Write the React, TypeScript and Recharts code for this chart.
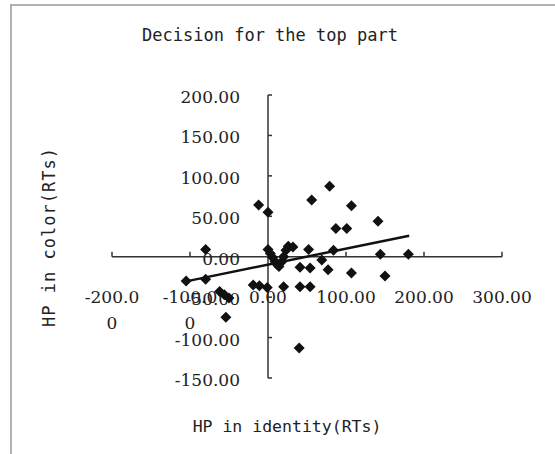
import { ReferenceDot, ReferenceLine, Scatter, ScatterChart, XAxis, YAxis } from "recharts";

// point cloud
const pointX = [
  -105, -80, -80, -62, -56, -50, -54, -12, 0, -19, -11, -1, 0, 3, 6, 9, 11, 14, 17, 20, 23, 26, 32, 20,
  41, 54, 69, 77, 107, 41, 54, 40, 56, 79, 107, 87, 101, 52, 84, 141, 144, 180, 150,
];
const pointY = [
  -30, 9, -28, -43, -47, -51, -75, 64, 55, -35, -36, -38, 9, 4, -1, -6, -9, -12, -7, 0, 8, 13, 12, -37,
  -13, -14, -4, -16, -20, -37, -37, -113, 70, 87, 63, 35, 35, 9, 8, 44, 3, 3, -24,
];

const trendX = [-105, 181];
const trendY = [-30.5, 26];

const xTicks = [-200, -100, 0, 100, 200, 300];
const xTickLabels = [["-200.0", "0"], ["-100.0", "0"], ["0.00"], ["100.00"], ["200.00"], ["300.00"]];
const yTicks = [200, 150, 100, 50, 0, -50, -100, -150];
const yTickLabels = ["200.00", "150.00", "100.00", "50.00", "0.00", "-50.00", "-100.00", "-150.00"];

const points = pointX.map((x, i) => ({ x, y: pointY[i] }));

const INK = "#222";
const tickFont = { fontFamily: "DejaVu Serif", fontSize: 17, fill: INK };
const monoFont = { fontFamily: "DejaVu Sans Mono", fill: INK };

const Diamond = (props: any) => {
  const { cx, cy } = props;
  const s = 5.5;
  return <polygon points={`${cx},${cy - s} ${cx + s},${cy} ${cx},${cy + s} ${cx - s},${cy}`} fill="#111" />;
};

const xTickShape = (lines: string[]) => (p: any) => (
  <g>
    <line x1={p.cx} y1={p.cy} x2={p.cx} y2={p.cy - 5} stroke="#333" strokeWidth={1.5} />
    <text x={p.cx} y={p.cy + 46} textAnchor="middle" {...tickFont}>
      {lines.map((l, i) => (
        <tspan key={i} x={p.cx} dy={i === 0 ? 0 : 26}>
          {l}
        </tspan>
      ))}
    </text>
  </g>
);

const yTickShape = (label: string) => (p: any) => (
  <g>
    <line x1={p.cx} y1={p.cy} x2={p.cx + 4} y2={p.cy} stroke="#333" strokeWidth={1.5} />
    <text x={p.cx - 28} y={p.cy + 8} textAnchor="end" {...tickFont}>
      {label}
    </text>
  </g>
);

export default function App() {
  return (
    <div style={{ position: "absolute", left: 0, top: 0, width: 555, height: 454, background: "#fff" }}>
      <ScatterChart width={555} height={454} margin={{ top: 95, right: 53, bottom: 76, left: 112 }}>
        <XAxis type="number" dataKey="x" domain={[-200, 300]} hide />
        <YAxis type="number" dataKey="y" domain={[-150, 200]} hide />
        <ReferenceLine y={0} stroke="#333" strokeWidth={1.5} />
        <ReferenceLine x={0} stroke="#333" strokeWidth={1.5} />
        {xTicks.map((t, i) => (
          <ReferenceDot key={"x" + t} x={t} y={0} r={1} shape={xTickShape(xTickLabels[i])} />
        ))}
        {yTicks.map((t, i) => (
          <ReferenceDot key={"y" + t} x={0} y={t} r={1} shape={yTickShape(yTickLabels[i])} />
        ))}
        <ReferenceLine
          segment={[
            { x: trendX[0], y: trendY[0] },
            { x: trendX[1], y: trendY[1] },
          ]}
          stroke="#111"
          strokeWidth={2.5}
        />
        <Scatter data={points} shape={Diamond} isAnimationActive={false} />
      </ScatterChart>
      <svg width={555} height={454} style={{ position: "absolute", left: 0, top: 0, pointerEvents: "none" }}>
        <line x1={10} y1={5} x2={555} y2={5} stroke="#999" strokeWidth={1.5} />
        <line x1={11} y1={5} x2={11} y2={454} stroke="#999" strokeWidth={1.5} />
        <text x={270} y={35} textAnchor="middle" dominantBaseline="central" fontSize={17} {...monoFont}>
          Decision for the top part
        </text>
        <text x={287} y={426} textAnchor="middle" dominantBaseline="central" fontSize={16.5} {...monoFont}>
          HP in identity(RTs)
        </text>
        <text
          x={49}
          y={237}
          textAnchor="middle"
          dominantBaseline="central"
          fontSize={17}
          letterSpacing={1}
          transform="rotate(-90 49 237)"
          {...monoFont}
        >
          HP in color(RTs)
        </text>
      </svg>
    </div>
  );
}
